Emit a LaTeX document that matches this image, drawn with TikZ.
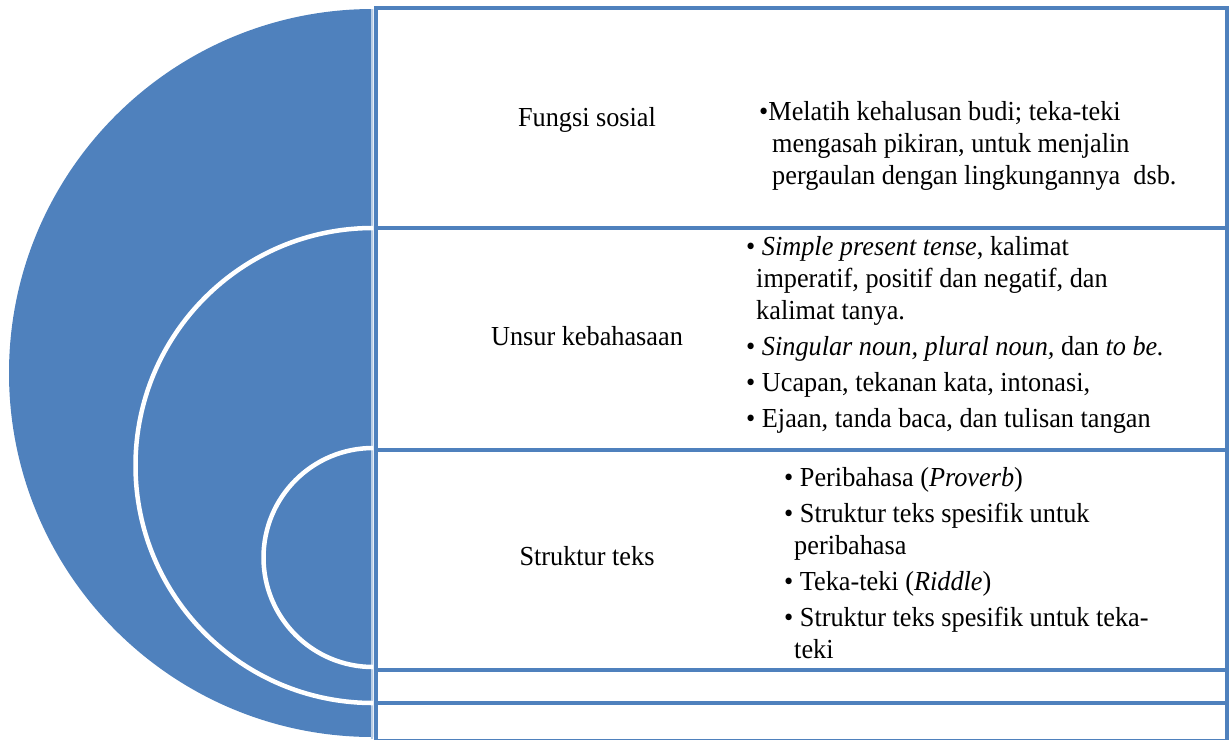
\documentclass[tikz,border=0pt]{standalone}
\usepackage{fontspec}
\setmainfont{Liberation Serif}[FakeStretch=0.955]
\definecolor{discblue}{HTML}{4F81BD}
\definecolor{edgeblue}{HTML}{B9CDE5}
\newcommand{\rowfont}{\fontsize{27.5}{32}\selectfont}
\begin{document}
\begin{tikzpicture}[x=1pt,y=-1pt,
    rowbox/.style={draw=discblue,line width=4pt},
    ring/.style={draw=white,line width=4.5pt},
    rowlabel/.style={font=\rowfont,inner sep=0pt,anchor=base},
    rowitems/.style={font=\rowfont,inner sep=0pt,anchor=base west}]
    \useasboundingbox (0,0) rectangle (1230,739);
    \coordinate (O) at (373,373);
    \coordinate (M) at (373,465.5);
    \coordinate (I) at (373,557.5);
    % half disc with its two white rings
    \fill[discblue] (O) ++(0,-364) arc[start angle=270,end angle=90,radius=364] -- cycle;
    \draw[edgeblue,line width=1.5pt] (372,9) -- (372,739);
    \draw[ring] (M) ++(0,-237.5) arc[start angle=270,end angle=90,radius=237.5];
    \draw[ring] (I) ++(0,-109.5) arc[start angle=270,end angle=90,radius=109.5];
    % rows
    \foreach \t/\b in {8/228,228/450,450/670,670/703,703/741}
      \draw[rowbox] (376,\t) rectangle (1227,\b);
    \node[rowlabel] (fungsi) at (587,126) {Fungsi sosial};
    \node[rowlabel] (unsur) at (587,345) {Unsur kebahasaan};
    \node[rowlabel] (struktur) at (587,565) {Struktur teks};
    \node[rowitems] (fungsiitems) at (759,120) {\begin{tabular}[t]{@{}l@{}}
      •Melatih kehalusan budi; teka-teki\\
      \hspace*{13pt}mengasah pikiran, untuk menjalin\\
      \hspace*{13pt}pergaulan dengan lingkungannya\ \ dsb.
      \end{tabular}};
    \node[rowitems] (unsuritems) at (746,255) {\begin{tabular}[t]{@{}l@{}}
      • \textit{Simple present tense}, kalimat\\
      \hspace*{10pt}imperatif, positif dan negatif, dan\\
      \hspace*{10pt}kalimat tanya.\\[4pt]
      • \textit{Singular noun, plural noun,} dan \textit{to be.}\\[4pt]
      • Ucapan, tekanan kata, intonasi,\\[4pt]
      • Ejaan, tanda baca, dan tulisan tangan
      \end{tabular}};
    \node[rowitems] (strukturitems) at (784,486) {\begin{tabular}[t]{@{}l@{}}
      • Peribahasa (\textit{Proverb})\\[4pt]
      • Struktur teks spesifik untuk\\
      \hspace*{10pt}peribahasa\\[4pt]
      • Teka-teki (\textit{Riddle})\\[4pt]
      • Struktur teks spesifik untuk teka-\\
      \hspace*{10pt}teki
      \end{tabular}};
\end{tikzpicture}
\end{document}
